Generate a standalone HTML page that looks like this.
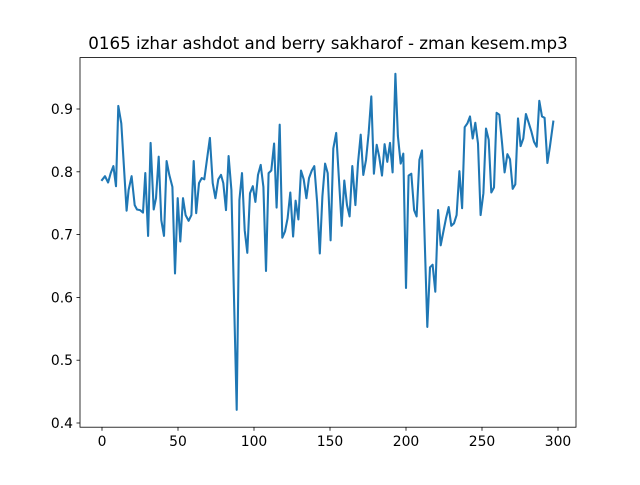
<!DOCTYPE html>
<html><head><meta charset="utf-8"><style>
body{margin:0;background:#fff;}
svg text{font-family:"DejaVu Sans","Liberation Sans",sans-serif;fill:#000;}
</style></head><body>
<svg id="chart" width="640" height="480" viewBox="0 0 640 480" xmlns="http://www.w3.org/2000/svg">
<rect width="640" height="480" fill="#fff"/>
<text x="328" y="49" font-size="16.7" text-anchor="middle">0165 izhar ashdot and berry sakharof - zman kesem.mp3</text>
<g id="ticks"></g>
<polyline id="series" fill="none" stroke="#1f77b4" stroke-width="2.08" stroke-linejoin="round" stroke-linecap="square"/>
<rect x="80" y="57.6" width="496" height="369.6" fill="none" stroke="#000" stroke-width="0.8"/>
</svg>
<script>
const xValues=[0,2,4,5.7,7.5,9.2,10.7,12.7,16.2,17.5,19.5,21.5,23,25,27,28.5,30.3,32,34,35.5,37.3,39,40.8,42.5,44.3,46.3,48,49.8,51.5,53.3,55,57,58.8,60.3,62,63.8,65.6,67.3,71,72.8,74.6,76.5,78.3,79.8,81.6,83.3,85.1,88.6,90.4,92.1,93.9,95.6,97.4,99.2,100.9,102.6,104.4,106.2,107.9,109.6,111.4,113.2,114.9,116.9,118.6,120.4,122.1,123.9,125.7,127.4,129.2,130.9,132.7,134.5,136.2,138,139.7,141.5,143.3,145,146.8,148.5,150.4,152.2,154.1,155.9,157.7,159.4,161.2,162.9,164.7,166.7,168.4,170.2,171.9,173.7,175.4,177.2,178.9,180.7,182.4,184.2,185.9,187.7,189.5,191.2,193,194.7,196.5,198.2,200,201.7,203.5,205.3,207,208.8,210.5,214,215.8,217.5,219.3,221.1,222.8,224.6,226.3,228.1,229.8,231.6,233.3,235.1,236.9,238.6,240.4,242.1,243.9,245.6,247.4,249.1,250.9,252.6,254.4,256.1,257.9,259.6,261.4,263.2,264.9,266.7,268.4,270.2,271.9,273.7,275.4,277.2,278.9,280.7,282.5,284.2,286,287.7,289.5,291.2,293,294.7,296.9];
const yValues=[0.787,0.793,0.783,0.798,0.809,0.777,0.905,0.877,0.738,0.771,0.793,0.747,0.740,0.739,0.735,0.798,0.698,0.846,0.740,0.758,0.824,0.723,0.698,0.817,0.795,0.776,0.638,0.758,0.689,0.758,0.731,0.722,0.731,0.817,0.734,0.782,0.790,0.788,0.854,0.782,0.758,0.788,0.795,0.782,0.739,0.825,0.771,0.421,0.755,0.798,0.707,0.671,0.766,0.777,0.752,0.795,0.811,0.776,0.642,0.798,0.802,0.845,0.743,0.875,0.695,0.705,0.726,0.767,0.697,0.754,0.724,0.802,0.788,0.758,0.790,0.802,0.809,0.752,0.670,0.761,0.813,0.798,0.691,0.837,0.862,0.787,0.714,0.786,0.747,0.729,0.809,0.747,0.814,0.859,0.795,0.819,0.861,0.920,0.797,0.843,0.824,0.794,0.844,0.816,0.846,0.799,0.956,0.857,0.813,0.829,0.615,0.794,0.797,0.739,0.729,0.819,0.834,0.553,0.648,0.652,0.609,0.739,0.683,0.705,0.726,0.744,0.714,0.718,0.731,0.801,0.742,0.871,0.877,0.888,0.853,0.878,0.845,0.731,0.766,0.869,0.851,0.767,0.775,0.894,0.891,0.845,0.799,0.828,0.820,0.773,0.780,0.885,0.841,0.853,0.892,0.878,0.864,0.848,0.840,0.913,0.888,0.886,0.814,0.840,0.880];
const xTicks=[0,50,100,150,200,250,300];
const yTicks=[0.4,0.5,0.6,0.7,0.8,0.9];
const yTickLabels=["0.4","0.5","0.6","0.7","0.8","0.9"];
function sx(v){return 102+v*456/300;}
function sy(v){return 109+(0.9-v)*628;}
const NS="http://www.w3.org/2000/svg";
const g=document.getElementById('ticks');
function mk(t,a){const e=document.createElementNS(NS,t);for(const k in a)e.setAttribute(k,a[k]);g.appendChild(e);return e;}
xTicks.forEach(function(v){
  const x=sx(v);
  const l=mk('line',{x1:x,x2:x,y1:427.2,y2:430.7,stroke:'#000','stroke-width':0.8});
  
  
  const t=mk('text',{x:x,y:446,'font-size':13.9,'text-anchor':'middle'});
  t.textContent=String(v);
  
  
});
yTicks.forEach(function(v,i){
  const y=sy(v);
  const l=mk('line',{x1:76.5,x2:80,y1:y,y2:y,stroke:'#000','stroke-width':0.8});
  
  
  const t=mk('text',{x:73,y:y+5,'font-size':13.9,'text-anchor':'end'});
  t.textContent=yTickLabels[i];
  
  
});
document.getElementById('series').setAttribute('points',xValues.map(function(x,i){return sx(x).toFixed(1)+','+sy(yValues[i]).toFixed(1);}).join(' '));
</script>
</body></html>
